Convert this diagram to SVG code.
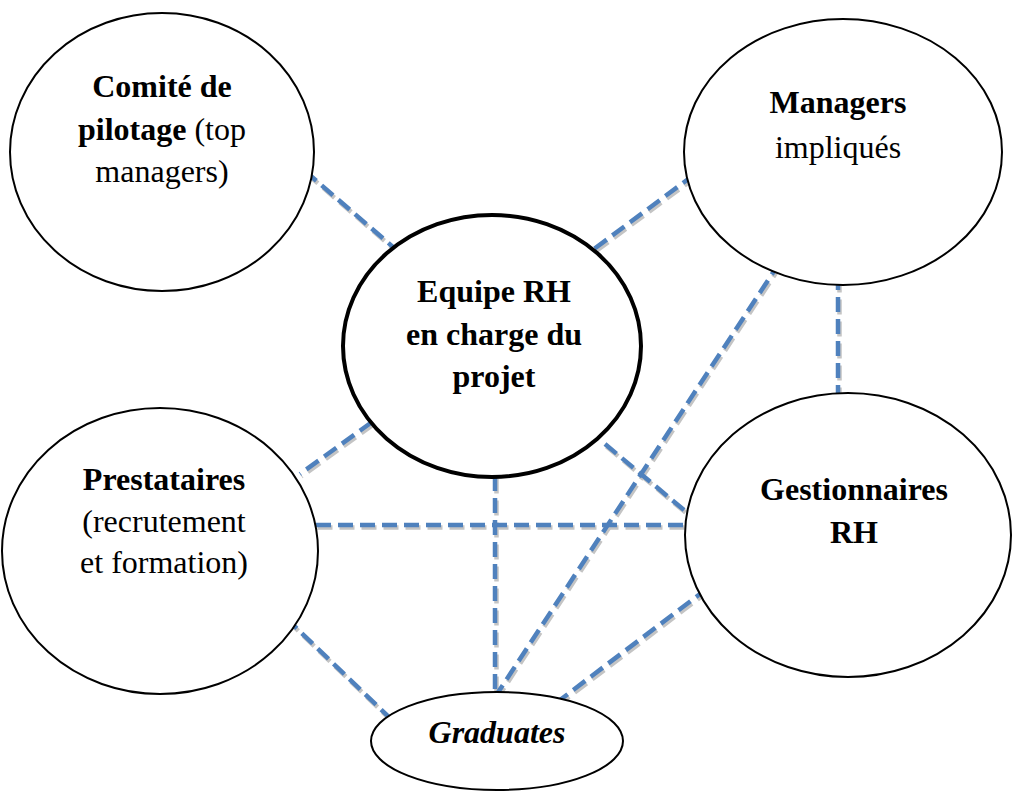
<svg xmlns="http://www.w3.org/2000/svg" width="1014" height="794" viewBox="0 0 1014 794">
<style>
.c line{stroke:#4f81bd;stroke-width:4.5;stroke-dasharray:15 7;fill:none}
.s line{stroke:#c4c4c4;stroke-width:4.5;stroke-dasharray:15 7;fill:none}
.n ellipse{fill:#fff;stroke:#000;stroke-width:2}
.n.main ellipse{stroke-width:4}
text{font-family:"Liberation Serif","Times New Roman",serif;font-size:32px;fill:#000;text-anchor:middle}
.b{font-weight:bold}
</style>
<rect width="1014" height="794" fill="#fff"/>
<g id="connector-shadows" class="s" transform="translate(1.5,2.5)">
<line x1="305" y1="171" x2="400" y2="253"/>
<line x1="695" y1="174" x2="590" y2="252"/>
<line x1="780" y1="262" x2="497" y2="694"/>
<line x1="838" y1="275" x2="838" y2="395"/>
<line x1="372" y1="422" x2="300" y2="474"/>
<line x1="605" y1="444" x2="690" y2="515"/>
<line x1="316" y1="525" x2="688" y2="525"/>
<line x1="495" y1="476" x2="495" y2="694"/>
<line x1="286" y1="618" x2="392" y2="720"/>
<line x1="708" y1="588" x2="556" y2="703"/>
</g>
<g id="connectors" class="c">
<line x1="305" y1="171" x2="400" y2="253"/>
<line x1="695" y1="174" x2="590" y2="252"/>
<line x1="780" y1="262" x2="497" y2="694"/>
<line x1="838" y1="275" x2="838" y2="395"/>
<line x1="372" y1="422" x2="300" y2="474"/>
<line x1="605" y1="444" x2="690" y2="515"/>
<line x1="316" y1="525" x2="688" y2="525"/>
<line x1="495" y1="476" x2="495" y2="694"/>
<line x1="286" y1="618" x2="392" y2="720"/>
<line x1="708" y1="588" x2="556" y2="703"/>
</g>
<g id="comite" class="n">
<ellipse cx="162" cy="152" rx="152" ry="139"/>
<text x="162" y="97" class="b">Comité de</text>
<text x="162" y="140"><tspan class="b">pilotage</tspan> (top</text>
<text x="162" y="182">managers)</text>
</g>
<g id="managers" class="n">
<ellipse cx="843" cy="152" rx="159" ry="133"/>
<text x="838" y="113" class="b">Managers</text>
<text x="838" y="158">impliqués</text>
</g>
<g id="equipe" class="n main">
<ellipse cx="492" cy="346" rx="149" ry="131"/>
<text x="494" y="302" class="b">Equipe RH</text>
<text x="494" y="345" class="b">en charge du</text>
<text x="494" y="387" class="b">projet</text>
</g>
<g id="prestataires" class="n">
<ellipse cx="160" cy="551" rx="158" ry="143"/>
<text x="164" y="490" class="b">Prestataires</text>
<text x="164" y="532">(recrutement</text>
<text x="164" y="573">et formation)</text>
</g>
<g id="gestionnaires" class="n">
<ellipse cx="848" cy="535" rx="163" ry="142"/>
<text x="854" y="500" class="b">Gestionnaires</text>
<text x="854" y="543" class="b">RH</text>
</g>
<g id="graduates" class="n">
<ellipse cx="497" cy="741" rx="126" ry="49"/>
<text x="497" y="743" class="b" font-style="italic">Graduates</text>
</g>
</svg>
